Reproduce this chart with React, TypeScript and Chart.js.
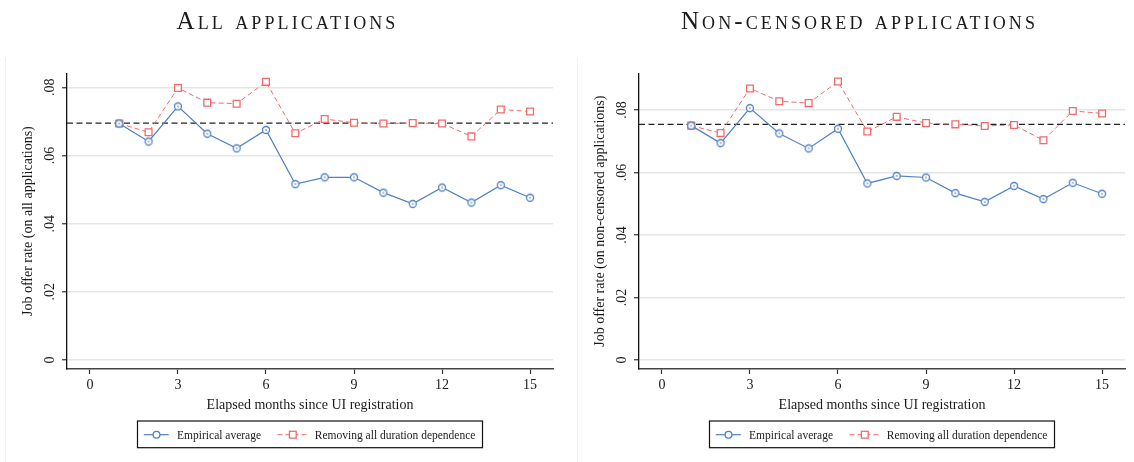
import React, { useEffect, useRef } from "react";
import { Chart, registerables } from "chart.js";

Chart.register(...registerables);

// ---------- data ----------
const months = [1, 2, 3, 4, 5, 6, 7, 8, 9, 10, 11, 12, 13, 14, 15];

const allEmpirical = [0.0694, 0.0641, 0.0744, 0.0664, 0.0621, 0.0675, 0.0516, 0.0536, 0.0536, 0.0491, 0.0458, 0.0506, 0.0462, 0.0513, 0.0476];
const allRemoving = [0.0694, 0.0668, 0.0798, 0.0755, 0.0752, 0.0816, 0.0665, 0.0707, 0.0696, 0.0694, 0.0695, 0.0694, 0.0656, 0.0735, 0.0729];
const allBenchmark = 0.0695;

const ncEmpirical = [0.075, 0.0694, 0.0806, 0.0725, 0.0677, 0.074, 0.0565, 0.0589, 0.0584, 0.0534, 0.0506, 0.0557, 0.0515, 0.0567, 0.0532];
const ncRemoving = [0.075, 0.0726, 0.0869, 0.0828, 0.0822, 0.0891, 0.0731, 0.0778, 0.0758, 0.0754, 0.0749, 0.0752, 0.0703, 0.0797, 0.0789];
const ncBenchmark = 0.0754;

const xTicks = [0, 3, 6, 9, 12, 15];
const yTicks = [0, 0.02, 0.04, 0.06, 0.08];
const yTickLabels = ["0", ".02", ".04", ".06", ".08"];

const seriesLabels = ["Empirical average", "Removing all duration dependence"];
const xTitle = "Elapsed months since UI registration";

// ---------- style ----------
const FONT = "'Liberation Serif', 'Times New Roman', serif";
const BLUE = "#4f81c4";
const RED = "#f26b6b";
const TEXT = "#1a1a1a";

function makeCircleImage(): HTMLCanvasElement {
  const c = document.createElement("canvas");
  c.width = 12;
  c.height = 12;
  const g = c.getContext("2d")!;
  g.beginPath();
  g.arc(6, 6, 3.5, 0, Math.PI * 2);
  g.fillStyle = "#ffffff";
  g.fill();
  g.lineWidth = 1.3;
  g.strokeStyle = BLUE;
  g.stroke();
  g.beginPath();
  g.arc(6, 6, 0.8, 0, Math.PI * 2);
  g.fillStyle = "#666";
  g.fill();
  return c;
}

type PanelProps = {
  left: number;
  title: string;
  yTitle: string;
  empirical: number[];
  removing: number[];
  benchmark: number;
  yMin: number;
  yMax: number;
};

function Panel(props: PanelProps) {
  const ref = useRef<HTMLCanvasElement | null>(null);

  useEffect(() => {
    const canvas = ref.current;
    if (!canvas) return;
    const circleImg = makeCircleImage();

    const decor = {
      id: "decor",
      beforeDatasetsDraw(chart: any) {
        const { ctx, chartArea, scales } = chart;
        const yy = scales.y.getPixelForValue(props.benchmark);
        ctx.save();
        ctx.setLineDash([6, 3.5]);
        ctx.strokeStyle = "#222";
        ctx.lineWidth = 1.3;
        ctx.beginPath();
        ctx.moveTo(chartArea.left, yy);
        ctx.lineTo(chartArea.right, yy);
        ctx.stroke();
        ctx.restore();
      },
      afterDraw(chart: any) {
        const { ctx, chartArea, scales } = chart;
        ctx.save();
        // faint panel border
        ctx.strokeStyle = "#f0f0f0";
        ctx.lineWidth = 1;
        ctx.beginPath();
        ctx.moveTo(5.5, 58);
        ctx.lineTo(5.5, 462);
        ctx.stroke();

        ctx.fillStyle = TEXT;
        // y tick labels (rotated)
        ctx.font = `14px ${FONT}`;
        ctx.textAlign = "center";
        ctx.textBaseline = "middle";
        yTicks.forEach((v, i) => {
          const py = scales.y.getPixelForValue(v);
          ctx.save();
          ctx.translate(50, py);
          ctx.rotate(-Math.PI / 2);
          ctx.fillText(yTickLabels[i], 0, 0);
          ctx.restore();
        });
        // y title
        ctx.save();
        ctx.translate(28.8, (chartArea.top + chartArea.bottom) / 2);
        ctx.rotate(-Math.PI / 2);
        ctx.fillText(props.yTitle, 0, 0);
        ctx.restore();
        // x title
        const cx = (chartArea.left + chartArea.right) / 2;
        ctx.textBaseline = "alphabetic";
        ctx.fillText(xTitle, cx, 409);

        // legend
        const bw = 345;
        const bx = cx - bw / 2;
        const by = 421;
        const bh = 26.7;
        ctx.strokeStyle = "#111";
        ctx.lineWidth = 1.2;
        ctx.strokeRect(bx, by, bw, bh);
        const sy = 434.7;
        // blue symbol
        ctx.strokeStyle = BLUE;
        ctx.lineWidth = 1.2;
        ctx.beginPath();
        ctx.moveTo(bx + 6.3, sy);
        ctx.lineTo(bx + 31.3, sy);
        ctx.stroke();
        ctx.beginPath();
        ctx.arc(bx + 19, sy, 3.4, 0, Math.PI * 2);
        ctx.fillStyle = "#fff";
        ctx.fill();
        ctx.lineWidth = 1.3;
        ctx.stroke();
        // red symbol
        ctx.strokeStyle = RED;
        ctx.lineWidth = 1;
        ctx.setLineDash([5, 3]);
        ctx.beginPath();
        ctx.moveTo(bx + 140, sy);
        ctx.lineTo(bx + 170.6, sy);
        ctx.stroke();
        ctx.setLineDash([]);
        ctx.fillStyle = "#fff";
        ctx.fillRect(bx + 155.3 - 3.4, sy - 3.4, 6.8, 6.8);
        ctx.lineWidth = 1.3;
        ctx.strokeRect(bx + 155.3 - 3.4, sy - 3.4, 6.8, 6.8);
        // legend text
        ctx.fillStyle = TEXT;
        ctx.font = `11.5px ${FONT}`;
        ctx.textAlign = "left";
        ctx.textBaseline = "alphabetic";
        ctx.fillText(seriesLabels[0], bx + 39.6, 439.3);
        ctx.fillText(seriesLabels[1], bx + 177.3, 439.3);
        ctx.restore();
      },
    };

    const chart = new Chart(canvas, {
      type: "line",
      data: {
        datasets: [
          {
            label: seriesLabels[0],
            data: months.map((m, i) => ({ x: m, y: props.empirical[i] })),
            borderColor: BLUE,
            borderWidth: 1.2,
            pointStyle: circleImg as any,
            pointRadius: 4,
            tension: 0,
          },
          {
            label: seriesLabels[1],
            data: months.map((m, i) => ({ x: m, y: props.removing[i] })),
            borderColor: RED,
            borderWidth: 1,
            borderDash: [5, 3],
            pointStyle: "rect",
            pointRadius: 4.8,
            pointBorderColor: RED,
            pointBackgroundColor: "#ffffff",
            pointBorderWidth: 1.3,
            tension: 0,
          },
        ],
      },
      options: {
        animation: false,
        responsive: false,
        maintainAspectRatio: false,
        layout: { padding: { top: 73.3, right: 9, left: 0, bottom: 0 } },
        plugins: { legend: { display: false }, tooltip: { enabled: false } },
        scales: {
          x: {
            type: "linear",
            min: -0.78,
            max: 15.78,
            afterBuildTicks: (ax: any) => {
              ax.ticks = xTicks.map((v) => ({ value: v }));
            },
            afterFit: (s: any) => {
              s.height = 93;
            },
            grid: {
              drawOnChartArea: false,
              drawTicks: true,
              tickLength: 5,
              tickColor: "#333",
              tickWidth: 1.2,
            },
            border: { color: "#444", width: 1.5 },
            ticks: {
              font: { family: FONT, size: 14 },
              color: TEXT,
              padding: 3,
              maxRotation: 0,
              minRotation: 0,
              autoSkip: false,
            },
          },
          y: {
            type: "linear",
            min: props.yMin,
            max: props.yMax,
            afterBuildTicks: (ax: any) => {
              ax.ticks = yTicks.map((v) => ({ value: v }));
            },
            afterFit: (s: any) => {
              s.width = 67;
            },
            grid: {
              color: "#e6e6e6",
              lineWidth: 1.5,
              drawTicks: true,
              tickLength: 5,
              tickColor: "#333",
              tickWidth: 1.2,
            },
            border: { color: "#111", width: 1.3 },
            ticks: { display: false },
          },
        },
      },
      plugins: [decor],
    } as any);

    return () => chart.destroy();
  }, []);

  return (
    <div style={{ position: "absolute", left: props.left, top: 0, width: 562, height: 462 }}>
      <canvas ref={ref} width={562} height={462} style={{ position: "absolute", left: 0, top: 0 }} />
      <div
        style={{
          position: "absolute",
          left: 0,
          top: 8.4,
          width: 575,
          textAlign: "center",
          fontFamily: FONT,
          fontSize: 25,
          lineHeight: "25px",
          fontVariant: "small-caps",
          letterSpacing: "3.1px",
          color: TEXT,
          whiteSpace: "nowrap",
        }}
      >
        {props.title}
      </div>
    </div>
  );
}

export default function App() {
  return (
    <div style={{ position: "absolute", left: 0, top: 0, width: 1134, height: 462, background: "#fff", overflow: "hidden" }}>
      <Panel
        left={0}
        title="All applications"
        yTitle="Job offer rate (on all applications)"
        empirical={allEmpirical}
        removing={allRemoving}
        benchmark={allBenchmark}
        yMin={-0.00264}
        yMax={0.08411}
      />
      <Panel
        left={572}
        title="Non-censored applications"
        yTitle="Job offer rate (on non-censored applications)"
        empirical={ncEmpirical}
        removing={ncRemoving}
        benchmark={ncBenchmark}
        yMin={-0.00288}
        yMax={0.09174}
      />
    </div>
  );
}
